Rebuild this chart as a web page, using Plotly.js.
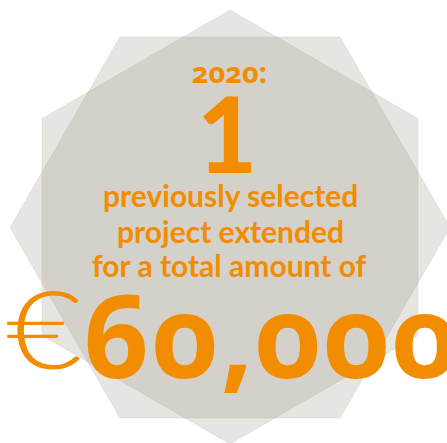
<!DOCTYPE html>
<html>
<head>
<meta charset="utf-8">
<script src="https://cdn.plot.ly/plotly-3.0.1.min.js"></script>
<style>
  html, body { margin: 0; padding: 0; background: #ffffff; }
  #chart { width: 447px; height: 443px; }
  .annotation[data-index="0"] text,
  .annotation[data-index="6"] text { font-feature-settings: "onum" 1; font-variant-numeric: oldstyle-nums; }
  .annotation[data-index="6"] text { letter-spacing: 2px; }
  .annotation[data-index="5"] text { transform-box: fill-box; transform-origin: 0 50%; transform: scaleX(1.22); }
</style>
</head>
<body>
<div id="chart"></div>
<script>
// ---- data ----
const years = ["2020"];
const projectCounts = [1];
const descriptionLines = ["previously selected", "project extended", "for a total amount of"];
const amounts = [60000];
const currencySymbols = ["€"];

// ---- styling ----
const ORANGE = "#f28c00";
const HEX_FILL = "rgba(150,142,125,0.23)";
const FONT = "Lato, 'Open Sans', sans-serif";

function hexPath(cx, cy, r, startDeg) {
  let p = "";
  for (let i = 0; i < 6; i++) {
    const a = (startDeg + 60 * i) * Math.PI / 180;
    const x = cx + r * Math.cos(a), y = cy + r * Math.sin(a);
    p += (i === 0 ? "M" : "L") + x.toFixed(2) + "," + y.toFixed(2);
  }
  return p + "Z";
}

const shapes = [
  {type: "path", xref: "x", yref: "y", path: hexPath(230, 227, 217, -90), fillcolor: HEX_FILL, line: {width: 0.6, color: "rgba(150,142,125,0.25)"}, layer: "below"},
  {type: "path", xref: "x", yref: "y", path: hexPath(230, 227.5, 220, 0), fillcolor: HEX_FILL, line: {width: 0.6, color: "rgba(150,142,125,0.25)"}, layer: "below"}
];

function ann(text, x, y, size, weight, xanchor, family) {
  return {text: text, x: x, y: y, xref: "x", yref: "y", xanchor: xanchor || "center", yanchor: "middle",
          showarrow: false, font: {family: family || FONT, size: size, color: ORANGE, weight: weight || 700}};
}

const annotations = [
  ann(years[0] + ":", 229, 71.8, 29, 700, "center", "'Open Sans'"),
  ann(String(projectCounts[0]), 227, 132.8, 104, 900),
  ann(descriptionLines[0], 230, 195, 30),
  ann(descriptionLines[1], 230, 231, 30),
  ann(descriptionLines[2], 229, 265, 30),
  ann(currencySymbols[0], 4, 327.2, 108, 300, "left"),
  ann(amounts[0].toLocaleString("en-US"), 91, 333.8, 114, 700, "left", "'Noto Sans'")
];

const layout = {
  width: 447, height: 443,
  margin: {l: 0, r: 0, t: 0, b: 0},
  paper_bgcolor: "#ffffff", plot_bgcolor: "#ffffff",
  xaxis: {range: [0, 447], visible: false, fixedrange: true},
  yaxis: {range: [443, 0], visible: false, fixedrange: true},
  shapes: shapes,
  annotations: annotations,
  showlegend: false
};

Plotly.newPlot("chart", [{x: [], y: [], type: "scatter", mode: "markers", hoverinfo: "skip"}], layout, {staticPlot: true, displayModeBar: false});
</script>
</body>
</html>
